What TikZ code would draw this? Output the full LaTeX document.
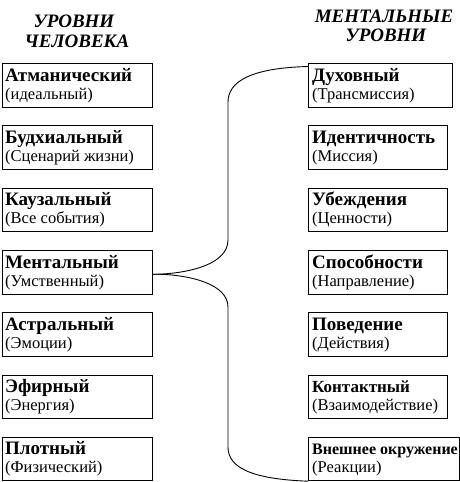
\documentclass[tikz,border=0pt]{standalone}
\usepackage{fontspec}
\setmainfont{Liberation Serif}
\begin{document}
\begin{tikzpicture}[x=1pt,y=-1pt,
  lvlbox/.style={draw,line width=0.9pt,rectangle,anchor=north west,minimum height=43.5pt,inner sep=0pt},
  ttl/.style={anchor=base west,inner sep=0pt,font=\fontsize{19}{19}\selectfont\bfseries},
  sub/.style={anchor=base west,inner sep=0pt,font=\fontsize{16.5}{16.5}\selectfont},
  hdr/.style={anchor=base,inner sep=0pt,font=\fontsize{19}{19}\selectfont\bfseries\itshape},
  brace/.style={draw,line width=0.9pt}]
\useasboundingbox (0,0) rectangle (460,482);
% headers
\node[hdr] (h1) at (74,27) {УРОВНИ};
\node[hdr] (h2) at (77,47) {ЧЕЛОВЕКА};
\node[hdr] (h3) at (384,22) {МЕНТАЛЬНЫЕ};
\node[hdr] (h4) at (386,41) {УРОВНИ};
% left boxes
\foreach \i/\t/\s/\y in {1/Атманический/(идеальный)/63,
  2/Будхиальный/(Сценарий жизни)/125.3,
  3/Каузальный/(Все события)/187.6,
  4/Ментальный/(Умственный)/250,
  5/Астральный/(Эмоции)/312.2,
  6/Эфирный/(Энергия)/374.5,
  7/Плотный/(Физический)/436.8}{
  \node[lvlbox,minimum width=149.5pt] (L\i) at (2,\y) {};
  \node[ttl] (L\i t) at (5,\y+18) {\t};
  \node[sub] (L\i s) at (5,\y+36) {\s};
}
% right boxes
\foreach \i/\t/\s/\y/\w/\f in {1/Духовный/(Трансмиссия)/63/143.5/19,
  2/Идентичность/(Миссия)/125.3/139/19,
  3/Убеждения/(Ценности)/187.6/139/19,
  4/Способности/(Направление)/250/139/19,
  5/Поведение/(Действия)/312.2/139/19,
  6/Контактный/(Взаимодействие)/374.5/139/17,
  7/Внешнее окружение/(Реакции)/436.8/151/16}{
  \node[lvlbox,minimum width=\w pt] (R\i) at (308,\y) {};
  \node[ttl,font=\fontsize{\f}{\f}\selectfont\bfseries] (R\i t) at (312,\y+18) {\t};
  \node[sub] (R\i s) at (312,\y+36) {\s};
}
% brace connector
\draw[brace] ([yshift=-2pt]L4.east) -- ++(6,0)
  .. controls (190,273) and (228,264) .. (228,240)
  -- (228,102)
  .. controls (228,82) and (250,68) .. ([yshift=-3.5pt]R1.north west);
\draw[brace] ([yshift=-2pt]L4.east) -- ++(6,0)
  .. controls (190,275) and (228,284) .. (228,307)
  -- (228,447)
  .. controls (228,467) and (250,479) .. (R7.south west);
\end{tikzpicture}
\end{document}
